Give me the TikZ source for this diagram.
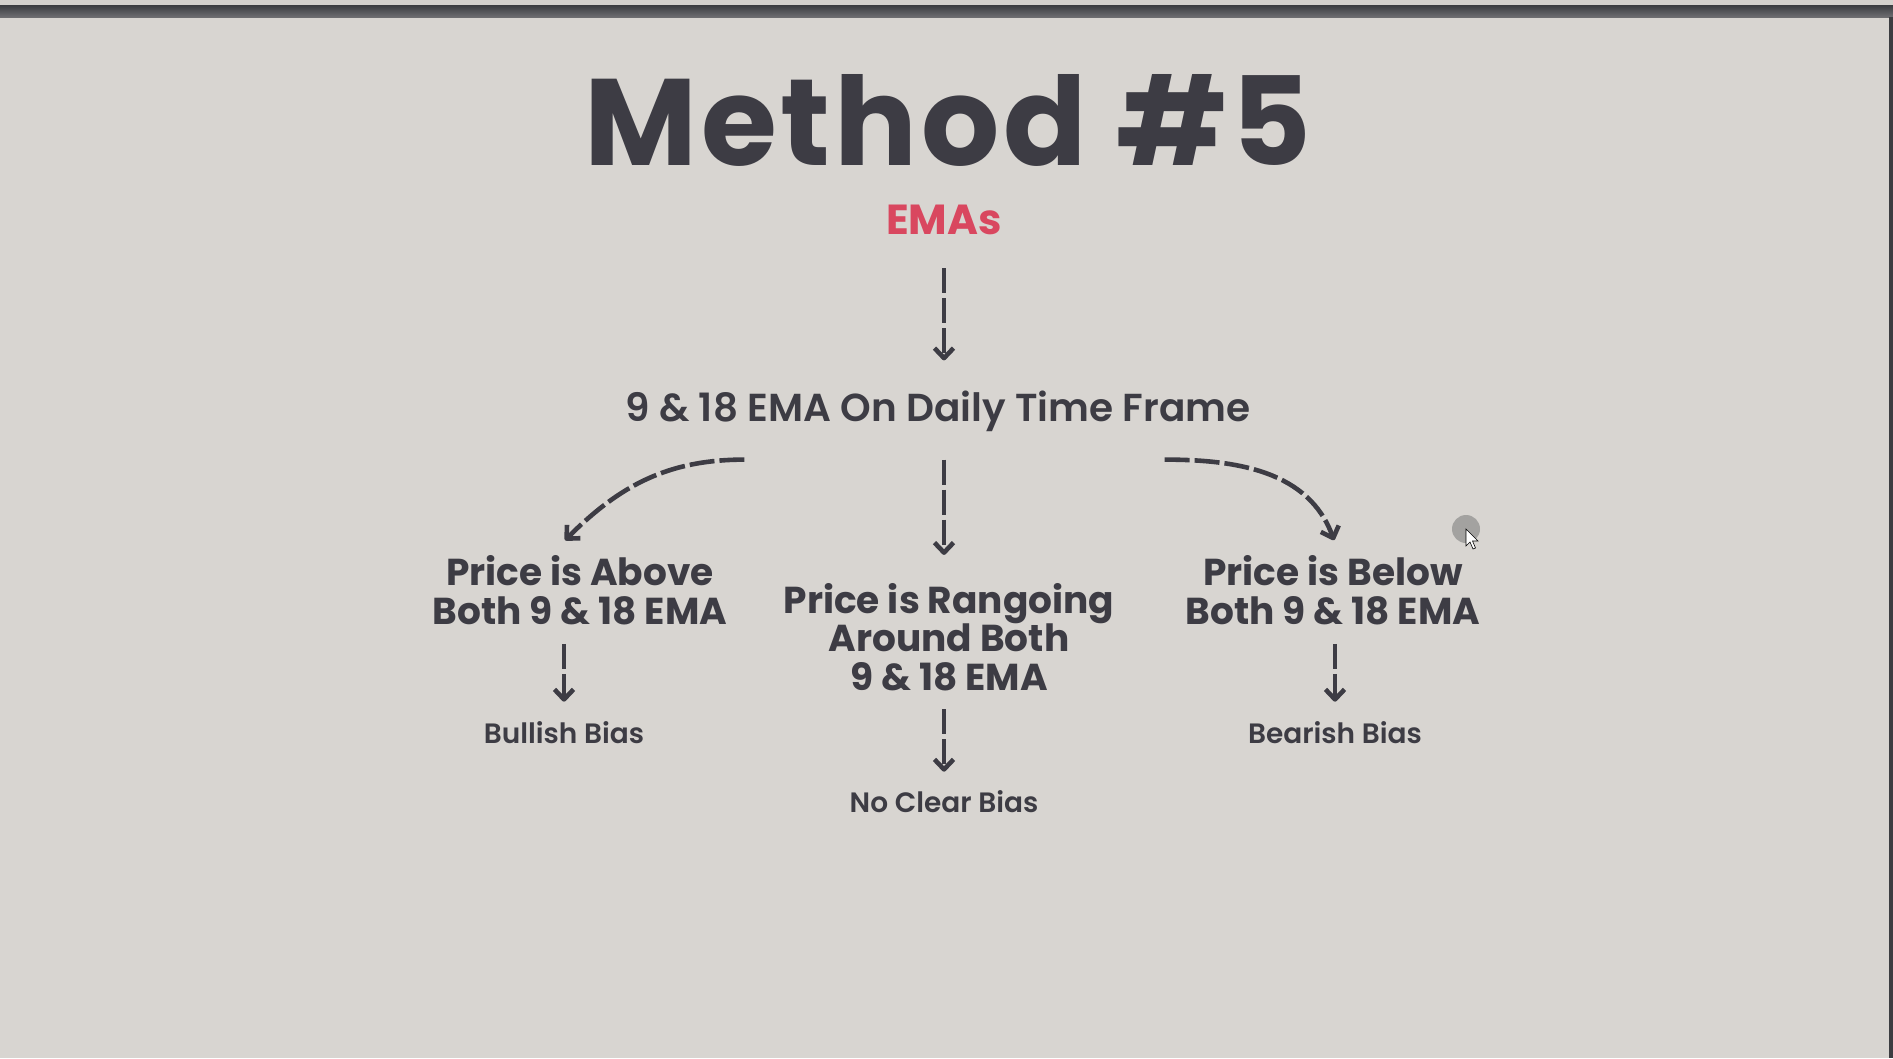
\documentclass[tikz,border=0pt]{standalone}
\usepackage{fontspec}
\setmainfont{Poppins}
\newfontfamily\headfam{Poppins}[LetterSpace=3]
\newfontfamily\semifam{Poppins SemiBold}
\usetikzlibrary{arrows.meta,positioning}
\definecolor{bgcol}{HTML}{D8D5D1}
\definecolor{inkcol}{HTML}{3D3C44}
\definecolor{emacol}{HTML}{D9475F}
\definecolor{barcol}{HTML}{3C3D41}

\begin{document}
\begin{tikzpicture}[x=1pt,y=1pt,
    every node/.style={inner sep=0pt, text=inkcol},
    titletext/.style={font=\headfam\bfseries\fontsize{123}{123}\selectfont},
    ematext/.style={font=\bfseries\fontsize{42}{42}\selectfont, text=emacol},
    frametext/.style={font=\semifam\fontsize{39}{39}\selectfont},
    choice/.style={font=\bfseries\fontsize{37.5}{38.6}\selectfont, align=center},
    biastext/.style={font=\semifam\fontsize{28}{28}\selectfont},
    flow/.style={draw=inkcol, line width=4.6pt, dash pattern=on 25pt off 5pt,
      -{Straight Barb[length=10pt,width=19pt,line width=4.6pt,line join=round]}}]

  % screen background
  \fill[bgcol] (0,0) rectangle (1893,-1058);
  \fill[color={rgb,255:red,213;green,210;blue,206}] (0,0) rectangle (1893,-5);
  \shade[top color=barcol, bottom color=barcol!75!white] (0,-5) rectangle (1893,-17);
  \fill[barcol] (1889,-17) rectangle (1893,-1058);

  % title
  \node[titletext] (title) at (948,-120) {Method \#5};
  \node[ematext] (emas) at (944,-220) {EMAs};

  \node[frametext] (frame) at (938,-411) {9 \& 18 EMA On Daily Time Frame};

  % the three cases
  \node[choice] (above) at (580,-590) {Price is Above\\Both 9 \& 18 EMA};
  \node[choice] (range) at (949,-637) {Price is Rangoing\\Around Both\\9 \& 18 EMA};
  \node[choice] (below) at (1333,-590) {Price is Below\\Both 9 \& 18 EMA};

  \node[biastext] (bull) at (564,-733) {Bullish Bias};
  \node[biastext] (noclear) at (944,-802) {No Clear Bias};
  \node[biastext] (bear) at (1335,-733) {Bearish Bias};

  % arrows
  \draw[flow, shorten <=33pt, shorten >=30pt] (emas.south) -- (emas.south |- frame.north);
  \draw[flow, shorten <=28pt, shorten >=28pt] (frame.south -| emas) -- (range.north -| emas);
  \draw[flow] ([shift={(119pt,-28pt)}]frame.south west) to[out=180,in=45] ([shift={(-15pt,15pt)}]above.north);
  \draw[flow] ([shift={(-86pt,-28pt)}]frame.south east) to[out=0,in=110] ([shift={(1pt,15pt)}]below.north);

  \draw[flow, shorten <=19pt, shorten >=20pt] (above.south -| bull.north) -- (bull.north);
  \draw[flow, shorten <=18pt, shorten >=19pt] (range.south -| noclear.north) -- (noclear.north);
  \draw[flow, shorten <=19pt, shorten >=20pt] (below.south -| bear.north) -- (bear.north);

  % pointer
  \node[circle, fill=gray!60!bgcol, minimum size=28pt] (dot) at (1466,-529) {};
  \draw[fill=white, draw=black, line width=0.6pt, shift={(dot.center)}]
    (0,0) -- (0,-17) -- (4,-13) -- (7,-20) -- (9.5,-19) -- (6.5,-12) -- (12,-12) -- cycle;
\end{tikzpicture}
\end{document}
